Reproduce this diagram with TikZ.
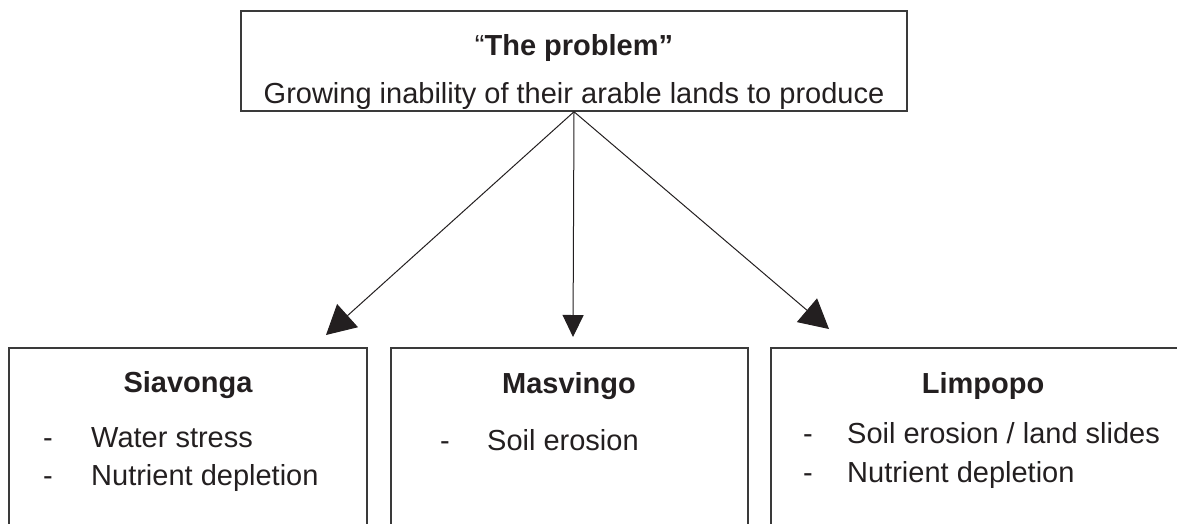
\documentclass[tikz,border=0pt]{standalone}
\usepackage{fontspec}
\setmainfont{Liberation Sans}
\usetikzlibrary{arrows.meta}
\definecolor{ink}{HTML}{231F20}
\definecolor{edge}{HTML}{3A3A3A}
\begin{document}
\begin{tikzpicture}[x=1pt,y=-1pt,
  font=\fontsize{29}{35}\selectfont,
  box/.style={draw=edge, line width=1.5pt, inner sep=0pt},
  txt/.style={anchor=base west, text=ink, inner sep=0pt},
  ctxt/.style={anchor=base, text=ink, inner sep=0pt},
  head/.style={anchor=base, text=ink, inner sep=0pt, font=\fontsize{29}{35}\selectfont\bfseries},
  conn/.style={draw=ink, line width=1pt},
  bigtip/.style={-{Triangle[length=29pt,width=31pt]}},
  smalltip/.style={-{Triangle[length=22pt,width=21pt]}}]
\useasboundingbox (0,0) rectangle (1177,523);
\clip (0,0) rectangle (1177,523);

% top box
\node[box, minimum width=666pt, minimum height=100pt] (top) at (574,61) {};
\node[ctxt] (title) at (574,55) {“\textbf{The problem”}};
\node[ctxt] (sub) at (574,103) {Growing inability of their arable lands to produce};

% bottom boxes (cut off at the bottom)
\node[box, minimum width=358pt, minimum height=220pt, anchor=north] (sia) at (188,347) {};
\node[box, minimum width=357pt, minimum height=220pt, anchor=north] (mas) at (569.5,347) {};
\node[box, minimum width=424pt, minimum height=220pt, anchor=north] (lim) at (983,347) {};

% Siavonga
\node[head] (siah) at (188,392) {Siavonga};
\node[txt] (sia1d) at (43,447) {-};
\node[txt] (sia1) at (91,447) {Water stress};
\node[txt] (sia2d) at (43,485) {-};
\node[txt] (sia2) at (91,485) {Nutrient depletion};

% Masvingo
\node[head] (mash) at (569,393) {Masvingo};
\node[txt] (mas1d) at (440,450) {-};
\node[txt] (mas1) at (487,450) {Soil erosion};

% Limpopo
\node[head] (limh) at (983,393) {Limpopo};
\node[txt] (lim1d) at (803,443) {-};
\node[txt] (lim1) at (847,443) {Soil erosion / land slides};
\node[txt] (lim2d) at (803,482) {-};
\node[txt] (lim2) at (847,482) {Nutrient depletion};

% arrows
\coordinate (tipS) at (326,335);
\coordinate (tipM) at (573,337);
\coordinate (tipL) at (829,329);
\draw[conn, bigtip] (top.south) -- (tipS);
\draw[conn, smalltip] (top.south) -- (tipM);
\draw[conn, bigtip] (top.south) -- (tipL);
\end{tikzpicture}
\end{document}
